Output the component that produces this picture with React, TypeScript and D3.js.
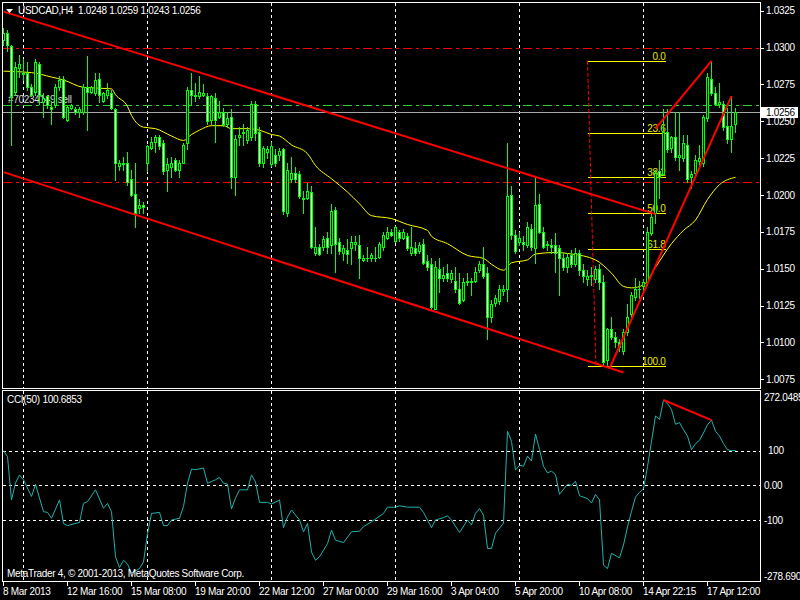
import React from 'react';
import * as d3 from 'd3';

// ---------------- DATA ----------------
const titleText = 'USDCAD,H4  1.0248 1.0259 1.0243 1.0256';
const cciTitle = 'CCI(50) 100.6853';
const footerText = 'MetaTrader 4, \u00A9 2001-2013, MetaQuotes Software Corp.';
const orderLabel = '#70234149 sell';

const priceTicks = [1.0325, 1.03, 1.0275, 1.025, 1.0225, 1.02, 1.0175, 1.015, 1.0125, 1.01, 1.0075];
const cciTicks = [272.0485, 100, 0, -100, -278.69];
const cciTickLabels = ['272.0485', '100', '0.00', '-100', '-278.690'];
const cciLevels = [100, 0, -100];

const timeLabels = ['8 Mar 2013', '12 Mar 16:00', '15 Mar 08:00', '19 Mar 20:00', '22 Mar 12:00', '27 Mar 00:00',
  '29 Mar 16:00', '3 Apr 04:00', '5 Apr 20:00', '10 Apr 08:00', '14 Apr 22:15', '17 Apr 12:00'];
const timeLabelBars = [0, 16, 32, 48, 64, 80, 96, 112, 128, 144, 160, 176];
const gridBars = [5, 36, 67, 98, 129, 160];

// open, high, low, close per H4 bar
const ohlc: [number, number, number, number][] = [
  [1.0305, 1.0313, 1.0302, 1.0310], [1.0310, 1.0312, 1.0298, 1.0302], [1.0301, 1.0302, 1.0234, 1.0267], [1.0270, 1.0290, 1.0268, 1.0287],
  [1.0286, 1.0295, 1.0280, 1.0289], [1.0283, 1.0292, 1.0278, 1.0282], [1.0283, 1.0290, 1.0271, 1.0273], [1.0273, 1.0275, 1.0267, 1.0268],
  [1.0270, 1.0292, 1.0268, 1.0290], [1.0289, 1.0290, 1.0262, 1.0268], [1.0263, 1.0269, 1.0253, 1.0266], [1.0267, 1.0268, 1.0259, 1.0261],
  [1.0260, 1.0264, 1.0248, 1.0258], [1.0261, 1.0275, 1.0260, 1.0273], [1.0273, 1.0281, 1.0271, 1.0278], [1.0279, 1.0281, 1.0252, 1.0253],
  [1.0251, 1.0261, 1.0250, 1.0260], [1.0259, 1.0262, 1.0258, 1.0261], [1.0258, 1.0260, 1.0255, 1.0256], [1.0256, 1.0260, 1.0253, 1.0258],
  [1.0256, 1.0275, 1.0255, 1.0273], [1.0273, 1.0294, 1.0244, 1.0270], [1.0270, 1.0274, 1.0269, 1.0273], [1.0269, 1.0283, 1.0268, 1.0278],
  [1.0279, 1.0283, 1.0263, 1.0268], [1.0264, 1.0270, 1.0263, 1.0269], [1.0268, 1.0276, 1.0266, 1.0271], [1.0269, 1.0271, 1.0258, 1.0259],
  [1.0258, 1.0259, 1.0210, 1.0222], [1.0220, 1.0224, 1.0217, 1.0222], [1.0222, 1.0226, 1.0217, 1.0221], [1.0222, 1.0229, 1.0207, 1.0209],
  [1.0211, 1.0217, 1.0199, 1.0200], [1.0201, 1.0222, 1.0178, 1.0188], [1.0191, 1.0197, 1.0188, 1.0193], [1.0193, 1.0195, 1.0188, 1.0192],
  [1.0222, 1.0234, 1.0216, 1.0233], [1.0232, 1.0239, 1.0231, 1.0236], [1.0236, 1.0241, 1.0229, 1.0239], [1.0239, 1.0241, 1.0231, 1.0233],
  [1.0235, 1.0237, 1.0214, 1.0216], [1.0217, 1.0225, 1.0203, 1.0221], [1.0219, 1.0226, 1.0212, 1.0222], [1.0224, 1.0225, 1.0216, 1.0217],
  [1.0217, 1.0224, 1.0212, 1.0222], [1.0222, 1.0235, 1.0222, 1.0234], [1.0235, 1.0273, 1.0231, 1.0271], [1.0271, 1.0283, 1.0261, 1.0268],
  [1.0268, 1.0276, 1.0264, 1.0267], [1.0267, 1.0281, 1.0266, 1.0270], [1.0268, 1.0275, 1.0267, 1.0269], [1.0267, 1.0269, 1.0248, 1.0250],
  [1.0251, 1.0268, 1.0248, 1.0267], [1.0266, 1.0269, 1.0236, 1.0251], [1.0253, 1.0264, 1.0252, 1.0256], [1.0256, 1.0259, 1.0247, 1.0248],
  [1.0248, 1.0256, 1.0246, 1.0252], [1.0253, 1.0258, 1.0205, 1.0212], [1.0212, 1.0241, 1.0200, 1.0238], [1.0239, 1.0246, 1.0234, 1.0241],
  [1.0242, 1.0248, 1.0234, 1.0243], [1.0237, 1.0246, 1.0235, 1.0244], [1.0239, 1.0264, 1.0237, 1.0262], [1.0262, 1.0264, 1.0237, 1.0242],
  [1.0243, 1.0246, 1.0220, 1.0222], [1.0222, 1.0233, 1.0219, 1.0232], [1.0229, 1.0233, 1.0225, 1.0231], [1.0221, 1.0236, 1.0220, 1.0233],
  [1.0227, 1.0231, 1.0220, 1.0222], [1.0227, 1.0232, 1.0224, 1.0230], [1.0231, 1.0232, 1.0187, 1.0189], [1.0188, 1.0222, 1.0186, 1.0217],
  [1.0211, 1.0226, 1.0209, 1.0215], [1.0215, 1.0219, 1.0209, 1.0211], [1.0214, 1.0216, 1.0198, 1.0199], [1.0197, 1.0203, 1.0188, 1.0198],
  [1.0198, 1.0208, 1.0197, 1.0203], [1.0202, 1.0206, 1.0164, 1.0165], [1.0161, 1.0178, 1.0159, 1.0165], [1.0165, 1.0167, 1.0159, 1.0160],
  [1.0165, 1.0172, 1.0163, 1.0170], [1.0171, 1.0175, 1.0161, 1.0165], [1.0166, 1.0194, 1.0161, 1.0189], [1.0190, 1.0192, 1.0148, 1.0167],
  [1.0168, 1.0171, 1.0160, 1.0162], [1.0161, 1.0166, 1.0156, 1.0164], [1.0163, 1.0170, 1.0154, 1.0160], [1.0164, 1.0172, 1.0153, 1.0168],
  [1.0167, 1.0172, 1.0163, 1.0168], [1.0166, 1.0173, 1.0144, 1.0157], [1.0156, 1.0159, 1.0155, 1.0157], [1.0157, 1.0165, 1.0155, 1.0157],
  [1.0157, 1.0161, 1.0155, 1.0159], [1.0157, 1.0165, 1.0155, 1.0157], [1.0158, 1.0168, 1.0157, 1.0167], [1.0165, 1.0175, 1.0163, 1.0173],
  [1.0171, 1.0178, 1.0170, 1.0175], [1.0175, 1.0177, 1.0172, 1.0173], [1.0169, 1.0179, 1.0168, 1.0178], [1.0175, 1.0176, 1.0169, 1.0171],
  [1.0171, 1.0177, 1.0170, 1.0175], [1.0172, 1.0174, 1.0163, 1.0164], [1.0161, 1.0178, 1.0159, 1.0165], [1.0164, 1.0168, 1.0159, 1.0161],
  [1.0162, 1.0168, 1.0161, 1.0166], [1.0167, 1.0170, 1.0153, 1.0154], [1.0155, 1.0159, 1.0149, 1.0151], [1.0153, 1.0157, 1.0123, 1.0124],
  [1.0123, 1.0155, 1.0123, 1.0151], [1.0150, 1.0157, 1.0134, 1.0144], [1.0144, 1.0151, 1.0142, 1.0146], [1.0147, 1.0153, 1.0142, 1.0144],
  [1.0143, 1.0149, 1.0141, 1.0147], [1.0142, 1.0151, 1.0134, 1.0136], [1.0136, 1.0147, 1.0126, 1.0127], [1.0129, 1.0144, 1.0128, 1.0141],
  [1.0141, 1.0147, 1.0139, 1.0142], [1.0142, 1.0144, 1.0132, 1.0141], [1.0142, 1.0151, 1.0141, 1.0148], [1.0149, 1.0155, 1.0148, 1.0153],
  [1.0153, 1.0165, 1.0144, 1.0145], [1.0147, 1.0151, 1.0102, 1.0117], [1.0117, 1.0129, 1.0114, 1.0126], [1.0127, 1.0132, 1.0125, 1.0130],
  [1.0128, 1.0139, 1.0126, 1.0136], [1.0135, 1.0139, 1.0132, 1.0136], [1.0136, 1.0235, 1.0128, 1.0199], [1.0200, 1.0206, 1.0170, 1.0173],
  [1.0173, 1.0176, 1.0161, 1.0162], [1.0168, 1.0175, 1.0166, 1.0171], [1.0168, 1.0172, 1.0163, 1.0167], [1.0166, 1.0182, 1.0165, 1.0178],
  [1.0177, 1.0180, 1.0163, 1.0165], [1.0164, 1.0212, 1.0154, 1.0193], [1.0194, 1.0201, 1.0174, 1.0175], [1.0175, 1.0178, 1.0164, 1.0165],
  [1.0166, 1.0169, 1.0163, 1.0167], [1.0166, 1.0170, 1.0161, 1.0165], [1.0166, 1.0174, 1.0148, 1.0161], [1.0164, 1.0166, 1.0132, 1.0157],
  [1.0157, 1.0161, 1.0149, 1.0151], [1.0151, 1.0161, 1.0148, 1.0158], [1.0159, 1.0163, 1.0151, 1.0153], [1.0153, 1.0164, 1.0152, 1.0161],
  [1.0161, 1.0163, 1.0146, 1.0149], [1.0149, 1.0153, 1.0141, 1.0145], [1.0143, 1.0149, 1.0139, 1.0145], [1.0145, 1.0151, 1.0139, 1.0146],
  [1.0143, 1.0152, 1.0141, 1.0150], [1.0150, 1.0153, 1.0136, 1.0141], [1.0141, 1.0146, 1.0084, 1.0087], [1.0088, 1.0110, 1.0085, 1.0109],
  [1.0109, 1.0117, 1.0102, 1.0104], [1.0104, 1.0107, 1.0097, 1.0100], [1.0100, 1.0102, 1.0094, 1.0097], [1.0094, 1.0109, 1.0092, 1.0107],
  [1.0107, 1.0126, 1.0105, 1.0117], [1.0119, 1.0134, 1.0117, 1.0132], [1.0131, 1.0144, 1.0129, 1.0136], [1.0136, 1.0142, 1.0130, 1.0136],
  [1.0138, 1.0143, 1.0134, 1.0141], [1.0141, 1.0178, 1.0139, 1.0175], [1.0174, 1.0188, 1.0173, 1.0185], [1.0188, 1.0217, 1.0181, 1.0215],
  [1.0216, 1.0224, 1.0198, 1.0212], [1.0214, 1.0258, 1.0214, 1.0243], [1.0243, 1.0258, 1.0229, 1.0231], [1.0232, 1.0240, 1.0229, 1.0239],
  [1.0239, 1.0256, 1.0224, 1.0226], [1.0226, 1.0256, 1.0217, 1.0227], [1.0225, 1.0241, 1.0223, 1.0235], [1.0234, 1.0241, 1.0209, 1.0211],
  [1.0212, 1.0216, 1.0205, 1.0214], [1.0215, 1.0227, 1.0213, 1.0224], [1.0223, 1.0234, 1.0220, 1.0225], [1.0222, 1.0254, 1.0220, 1.0253],
  [1.0252, 1.0283, 1.0250, 1.0280], [1.0279, 1.0291, 1.0268, 1.0269], [1.0269, 1.0273, 1.0261, 1.0262], [1.0262, 1.0276, 1.0260, 1.0263],
  [1.0262, 1.0264, 1.0244, 1.0246], [1.0247, 1.0259, 1.0235, 1.0238], [1.0238, 1.0267, 1.0229, 1.0247], [1.0248, 1.0259, 1.0243, 1.0256],
];

// moving average (yellow), read at bar positions
const maBars = [0, 7, 12, 15, 20, 27, 28, 31, 32, 35, 38, 42, 45, 47, 49, 52, 55, 57, 61, 64, 67, 69, 72, 76, 78, 82, 86, 89, 92, 97,
  101, 106, 107, 111, 116, 120, 122, 125, 127, 131, 133, 138, 142, 148, 152, 155, 157, 160, 163, 167, 170, 173, 176, 179, 183];
const maValues = [1.0284, 1.0283, 1.0280, 1.0278, 1.0273, 1.0272, 1.0268, 1.0260, 1.0254, 1.0246, 1.0245, 1.0240, 1.0237, 1.0241,
  1.0244, 1.0247, 1.0247, 1.0245, 1.0245, 1.0244, 1.0241, 1.0240, 1.0234, 1.0228, 1.0220, 1.0211, 1.0202, 1.0194, 1.0186, 1.0184,
  1.0180, 1.0176, 1.0172, 1.0167, 1.0159, 1.0157, 1.0153, 1.0149, 1.0154, 1.0156, 1.0160, 1.0161, 1.0160, 1.0156, 1.0147, 1.0138,
  1.0137, 1.0139, 1.0151, 1.0167, 1.0176, 1.0183, 1.0197, 1.0207, 1.0212];

// CCI(50), read at bar positions
const cciBars = [0, 1, 2, 3, 4, 5, 7, 8, 10, 11, 12, 14, 15, 16, 19, 20, 21, 23, 25, 26, 27, 28, 29, 30, 31, 32, 34, 35, 36, 37, 39,
  40, 41, 42, 44, 45, 46, 47, 48, 50, 51, 53, 54, 55, 56, 57, 58, 59, 61, 62, 63, 64, 66, 67, 69, 70, 71, 72, 74, 75, 76, 77, 78, 79,
  80, 81, 82, 83, 85, 87, 89, 90, 92, 95, 96, 98, 99, 101, 104, 105, 107, 108, 110, 111, 112, 114, 116, 117, 118, 119, 120, 121, 122,
  123, 125, 126, 127, 128, 129, 130, 131, 132, 133, 134, 135, 136, 137, 138, 139, 141, 142, 143, 144, 146, 147, 148, 149, 150, 151,
  152, 154, 155, 156, 157, 158, 159, 160, 161, 162, 163, 164, 165, 166, 167, 168, 169, 170, 171, 172, 173, 174, 175, 176, 177, 178,
  179, 180, 181, 182, 183];
const cciValues = [100, 83, -42, 7, 30, 16, -32, 3, -76, -78, -95, -42, -110, -116, -107, -52, -47, -13, -66, -52, -76, -206, -237,
  -216, -227, -253, -240, -221, -139, -81, -78, -116, -116, -100, -95, -61, 6, 47, 45, 50, 6, 16, 23, 6, 4, -68, -37, -13, -13, 30, 10,
  -49, -49, -54, -42, -122, -91, -71, -100, -134, -110, -192, -216, -206, -187, -168, -129, -158, -165, -134, -132, -119, -105, -81,
  -63, -63, -59, -63, -63, -78, -122, -100, -93, -88, -100, -136, -100, -114, -81, -67, -86, -182, -182, -138, -109, 156, 127, 44, 58,
  55, 84, 70, 148, 103, 55, 36, 41, 31, -26, 3, 0, 12, -30, -38, -51, -26, -42, -230, -240, -196, -209, -172, -120, -75, -34, -20, -10,
  54, 127, 200, 190, 246, 236, 219, 176, 181, 160, 142, 103, 120, 130, 151, 175, 188, 156, 142, 120, 103, 100, 100.69];

// drawn objects (bar index, price)
const channelUpper: [number, number][] = [[0, 1.03244], [163, 1.0187]];
const channelLower: [number, number][] = [[0, 1.02155], [155, 1.00796]];
const trendA: [number, number][] = [[163, 1.0245], [177, 1.0291]];
const trendB: [number, number][] = [[151.6, 1.0083], [182, 1.0267]];
const cciTrend: [number, number][] = [[165, 246], [177, 188]];
const redLevels = [1.03, 1.0209];
const orderLevel = 1.0261;
const bidPrice = 1.0256;
const fibHigh = 1.0291;
const fibLow = 1.0084;
const fibAnchorBars = [146, 148.1];
const fibEndBar = 165.5;
const fibLevels = [0, 23.6, 38.2, 50, 61.8, 100];

// ---------------- LAYOUT ----------------
const LEFT = 2.5, RIGHT = 760.5;
const MAIN_TOP = 2.5, MAIN_BOT = 388.5;
const CCI_TOP = 390.5, CCI_BOT = 581.5;
const FONT = '"Liberation Sans", Arial, sans-serif';
const LIME = '#00FF00';

const x = d3.scaleLinear().domain([0, 183]).range([3.5, 735.5]);
const y = d3.scaleLinear().domain([1.0075, 1.0325]).range([379.3, 10.7]);
const yc = d3.scaleLinear().domain([-278.69, 272.0485]).range([582, 391]);

export default function App() {
  const maLine = d3.line<number>().x((_, i) => x(maBars[i])).y((v) => y(v)).curve(d3.curveMonotoneX)(maValues) || '';
  const cciLine = d3.line<number>().x((_, i) => x(cciBars[i])).y((v) => yc(v))(cciValues) || '';
  const seg = (p: [number, number][], sy: (v: number) => number) =>
    ({ x1: x(p[0][0]), y1: sy(p[0][1]), x2: x(p[1][0]), y2: sy(p[1][1]) });

  const txt = { fontFamily: FONT, fontSize: 10, letterSpacing: -0.3 } as const;

  return (
    <svg width={800} height={600} style={{ display: 'block', position: 'absolute', left: 0, top: 0, background: '#000' }}>
      <defs>
        <clipPath id="mainClip"><rect x={LEFT} y={MAIN_TOP} width={RIGHT - LEFT} height={MAIN_BOT - MAIN_TOP} /></clipPath>
        <clipPath id="cciClip"><rect x={LEFT} y={CCI_TOP} width={RIGHT - LEFT} height={CCI_BOT - CCI_TOP} /></clipPath>
      </defs>
      <rect x={0} y={0} width={800} height={600} fill="#000" />

      {/* vertical grid */}
      <g shapeRendering="crispEdges">
        {gridBars.map((b) => (
          <g key={b}>
            <line x1={x(b) - 0.5} x2={x(b) - 0.5} y1={MAIN_TOP} y2={MAIN_BOT} stroke="#fff" strokeDasharray="3,3" />
            <line x1={x(b) - 0.5} x2={x(b) - 0.5} y1={CCI_TOP} y2={CCI_BOT} stroke="#fff" strokeDasharray="3,3" />
          </g>
        ))}
      </g>

      {/* main panel */}
      <g clipPath="url(#mainClip)">
        <g shapeRendering="crispEdges">
          {redLevels.map((p) => (
            <line key={p} x1={LEFT} x2={RIGHT} y1={Math.round(y(p)) + 0.5} y2={Math.round(y(p)) + 0.5}
              stroke="#FF0000" strokeDasharray="9,4,3,4" />
          ))}
          <line x1={LEFT} x2={RIGHT} y1={Math.round(y(orderLevel)) + 0.5} y2={Math.round(y(orderLevel)) + 0.5}
            stroke="#32CD32" strokeDasharray="9,4,3,4" />
          <line x1={LEFT} x2={RIGHT} y1={Math.round(y(bidPrice)) + 0.5} y2={Math.round(y(bidPrice)) + 0.5} stroke="#A8A8A8" />
        </g>
        <text x={8} y={103} fill="#D8D8D8" {...txt}>{orderLabel}</text>

        {/* fibonacci */}
        <g>
          {fibLevels.map((lv) => {
            const p = fibHigh - (fibHigh - fibLow) * lv / 100;
            const yy = Math.round(y(p)) + 0.5;
            return (
              <g key={lv}>
                <line x1={x(fibAnchorBars[0])} x2={x(fibEndBar)} y1={yy} y2={yy} stroke="#FFFF00" shapeRendering="crispEdges" />
                <text x={x(fibEndBar)} y={yy - 2} fill="#E8E800" textAnchor="end" {...txt}>{lv.toFixed(1)}</text>
              </g>
            );
          })}
          <line x1={x(fibAnchorBars[0])} y1={y(fibHigh)} x2={x(fibAnchorBars[1])} y2={y(fibLow)} stroke="#FF0000" strokeDasharray="4,2" />
        </g>

        {/* moving average */}
        <path d={maLine} fill="none" stroke="#FFFF00" strokeWidth={1} />

        {/* candles */}
        <g shapeRendering="crispEdges">
          {ohlc.map(([o, h, l, c], i) => {
            const cx = x(i);
            const top = Math.round(y(Math.max(o, c)));
            const bot = Math.round(y(Math.min(o, c)));
            const bull = c >= o;
            return (
              <g key={i}>
                <line x1={cx} x2={cx} y1={Math.round(y(h))} y2={Math.round(y(l)) + 1} stroke={LIME} />
                {bot - top < 1 ? (
                  <line x1={cx - 1.5} x2={cx + 1.5} y1={top + 0.5} y2={top + 0.5} stroke={LIME} />
                ) : (
                  <rect x={cx - 1} y={top + 0.5} width={2} height={bot - top} fill={bull ? '#000' : '#fff'} stroke={LIME} />
                )}
              </g>
            );
          })}
        </g>

        {/* trend lines */}
        {[channelUpper, channelLower, trendA, trendB].map((p, k) => (
          <line key={k} {...seg(p, y)} stroke="#FF0000" strokeWidth={2} />
        ))}
      </g>

      {/* CCI panel */}
      <g clipPath="url(#cciClip)">
        <g shapeRendering="crispEdges">
          {cciLevels.map((v) => (
            <line key={v} x1={LEFT} x2={RIGHT} y1={Math.round(yc(v)) + 0.5} y2={Math.round(yc(v)) + 0.5} stroke="#fff" strokeDasharray="3,3" />
          ))}
        </g>
        <path d={cciLine} fill="none" stroke="#20B2AA" strokeWidth={1} />
        <line {...seg(cciTrend, yc)} stroke="#FF0000" strokeWidth={2} />
        <text x={7} y={403} fill="#fff" {...txt}>{cciTitle}</text>
        <text x={7} y={577} fill="#fff" {...txt}>{footerText}</text>
      </g>

      {/* frames */}
      <g shapeRendering="crispEdges" fill="none" stroke="#fff">
        <rect x={LEFT} y={MAIN_TOP} width={RIGHT - LEFT} height={MAIN_BOT - MAIN_TOP} />
        <rect x={LEFT} y={CCI_TOP} width={RIGHT - LEFT} height={CCI_BOT - CCI_TOP} />
      </g>

      {/* header */}
      <polygon points="6,9 13,9 9.5,13" fill="#fff" />
      <text x={18} y={14} fill="#fff" style={{ whiteSpace: 'pre' }} {...txt}>{titleText}</text>

      {/* price axis */}
      <g>
        {priceTicks.map((p) => (
          <g key={p}>
            <line x1={RIGHT} x2={764} y1={Math.round(y(p)) + 0.5} y2={Math.round(y(p)) + 0.5} stroke="#fff" shapeRendering="crispEdges" />
            <text x={766} y={y(p) + 3.5} fill="#fff" {...txt}>{p.toFixed(4)}</text>
          </g>
        ))}
        <rect x={761} y={Math.round(y(bidPrice)) - 5} width={37} height={11} fill="#fff" />
        <text x={766} y={y(bidPrice) + 3.5} fill="#000" {...txt}>{bidPrice.toFixed(4)}</text>
      </g>

      {/* CCI axis */}
      <g>
        {cciTicks.map((v, k) => {
          const yy = Math.min(Math.max(yc(v), 397), 576);
          return (
            <text key={k} x={v === 100 ? 768 : 764} y={yy + 3.5} fill="#fff" {...txt}>{cciTickLabels[k]}</text>
          );
        })}
      </g>

      {/* time axis */}
      <g>
        {timeLabelBars.map((b, k) => (
          <g key={b}>
            <line x1={x(b) - 0.5} x2={x(b) - 0.5} y1={CCI_BOT} y2={586} stroke="#fff" shapeRendering="crispEdges" />
            <text x={x(b) - 0.5} y={595} fill="#fff" {...txt}>{timeLabels[k]}</text>
          </g>
        ))}
      </g>
    </svg>
  );
}
